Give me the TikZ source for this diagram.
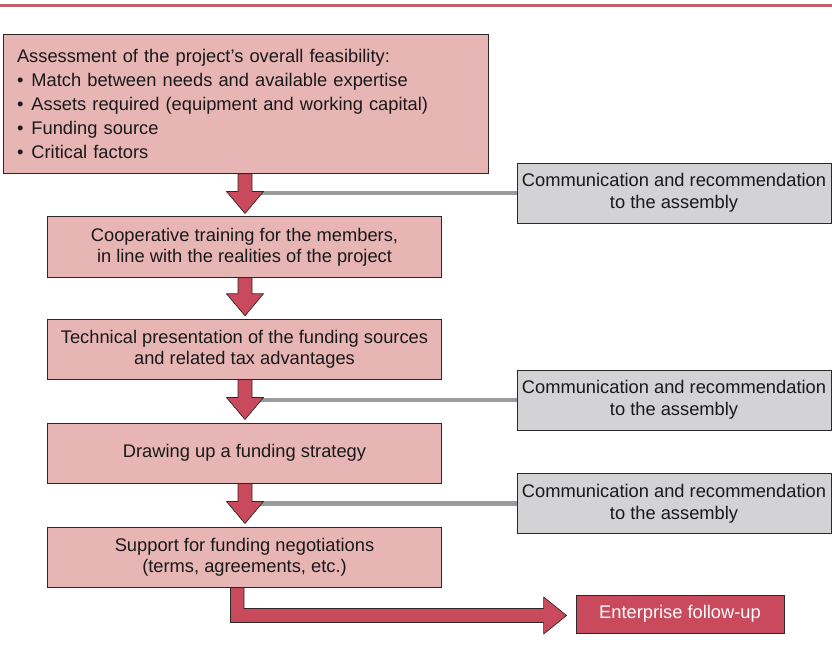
\documentclass[tikz,border=0pt]{standalone}
\usepackage{fontspec}
\setmainfont{Liberation Sans}
\usetikzlibrary{calc,backgrounds}
\definecolor{boxpink}{RGB}{232,181,181}
\definecolor{arrred}{RGB}{200,74,92}
\definecolor{boxgray}{RGB}{211,211,213}
\definecolor{linegray}{RGB}{154,155,157}
\definecolor{topred}{RGB}{192,96,104}
\definecolor{edgec}{RGB}{45,40,40}
\definecolor{txtc}{RGB}{25,25,25}
\newcommand\bul{\textbullet\hspace{8pt}}
\newcommand\vflow[2]{%
  \draw[redarrow] let \p1=(#1.south), \p2=(#2.north) in
    (245-7,\y1) -- (245-7,\y2+25) -- (245-18.5,\y2+25) -- (245,\y2+3)
    -- (245+18.5,\y2+25) -- (245+7,\y2+25) -- (245+7,\y1) -- cycle;}
\begin{document}
\begin{tikzpicture}[x=1pt,y=-1pt,
  every node/.style={font=\fontsize{18.3pt}{21pt}\selectfont, text=txtc},
  pinkbox/.style={draw=edgec, line width=0.8pt, fill=boxpink, inner sep=0pt, align=center,
    minimum width=394pt, minimum height=60pt},
  graybox/.style={draw=edgec, line width=0.8pt, fill=boxgray, inner sep=0pt, align=center,
    minimum width=314pt, minimum height=60pt, font=\fontsize{18.3pt}{22pt}\selectfont},
  redbox/.style={draw=edgec, line width=0.8pt, fill=arrred, inner sep=0pt, text=white,
    minimum width=208pt, minimum height=38pt},
  redarrow/.style={draw=edgec, line width=0.7pt, fill=arrred, line join=round},
  grayline/.style={draw=linegray, line width=4.5pt},
]
\useasboundingbox (0,0) rectangle (832,660);
\draw[topred, line width=2.5pt] (0,5.5) -- (832,5.5);

\node[pinkbox, minimum width=485pt, minimum height=139pt, text width=457pt, align=left,
  font=\fontsize{18.3pt}{24pt}\selectfont] (b1) at (245.5,103.8)
  {Assessment of the project’s overall feasibility:\\
   \bul Match between needs and available expertise\\
   \bul Assets required (equipment and working capital)\\
   \bul Funding source\\
   \bul Critical factors};
\node[pinkbox] (b2) at (244.5,246.9) {Cooperative training for the members,\\in line with the realities of the project};
\node[pinkbox] (b3) at (244.5,349.2) {Technical presentation of the funding sources\\and related tax advantages};
\node[pinkbox] (b4) at (244.5,452.9) {Drawing up a funding strategy};
\node[pinkbox] (b5) at (244.5,556.9) {Support for funding negotiations\\(terms, agreements, etc.)};

\node[graybox] (g1) at (674,193) {Communication and recommendation\\to the assembly};
\node[graybox] (g2) at (674,400) {Communication and recommendation\\to the assembly};
\node[graybox] (g3) at (674,503.7) {Communication and recommendation\\to the assembly};

\node[redbox] (ent) at (680,614) {Enterprise follow-up};

\begin{scope}[on background layer]
  \draw[grayline] (g1.west) -- (g1.west -| b2.north);
  \draw[grayline] (g2.west) -- (g2.west -| b4.north);
  \draw[grayline] (g3.west) -- (g3.west -| b5.north);
  \vflow{b1}{b2}
  \vflow{b2}{b3}
  \vflow{b3}{b4}
  \vflow{b4}{b5}
  \draw[redarrow] let \p1=(b5.south), \p2=(ent.west) in
    (\x1-14,\y1) -- (\x1-14,\y2-1.5-7) -- (\x2-32,\y2-1.5-7) -- (\x2-32,\y2-1.5-18.5)
    -- (\x2-9,\y2-1.5) -- (\x2-32,\y2-1.5+18.5) -- (\x2-32,\y2-1.5+7)
    -- (\x1-0.5,\y2-1.5+7) -- (\x1-0.5,\y1) -- cycle;
\end{scope}
\end{tikzpicture}
\end{document}
